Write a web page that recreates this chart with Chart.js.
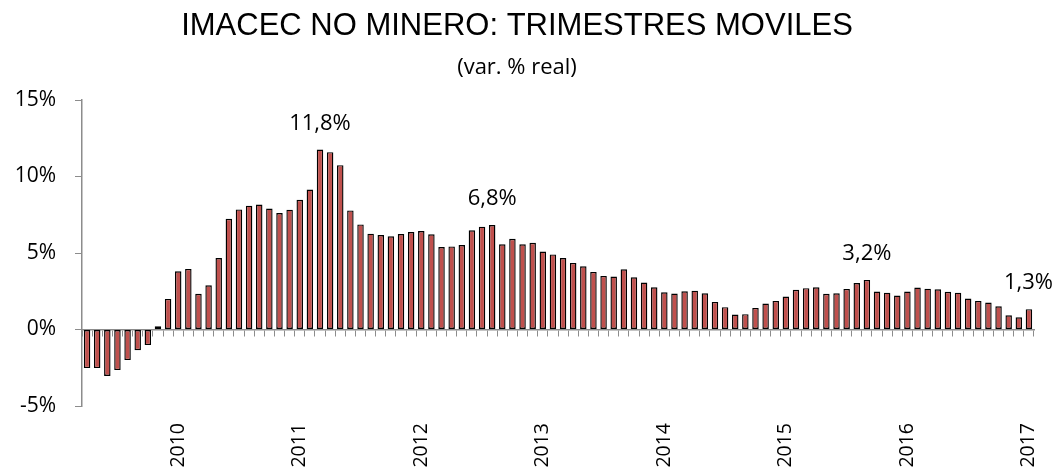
<!DOCTYPE html>
<html>
<head>
<meta charset="utf-8">
<script src="https://cdn.jsdelivr.net/npm/chart.js@4/dist/chart.umd.min.js"></script>
<style>
  html, body { margin: 0; padding: 0; background: #fff; }
  #wrap { width: 1054px; height: 469px; }
</style>
</head>
<body>
<div id="wrap"><canvas id="imacecChart" width="1054" height="469"></canvas></div>
<script>
// serie mensual, abr-2009 a ene-2017 (var. % real, trimestres moviles)
const startYear = 2009;
const startMonth = 4;
const values = [
  -2.52, -2.52, -3.04, -2.65, -2.0, -1.35, -1.02, 0.22,
  2.0, 3.8, 3.96, 2.33, 2.89, 4.67, 7.24, 7.85, 8.09, 8.17, 7.91, 7.61,
  7.83, 8.48, 9.15, 11.76, 11.59, 10.74, 7.78, 6.87,
  6.26, 6.17, 6.09, 6.24, 6.37, 6.43, 6.22, 5.39, 5.43, 5.52,
  6.48, 6.72, 6.83, 5.57, 5.93, 5.57, 5.67, 5.09, 4.91, 4.67,
  4.35, 4.13, 3.76, 3.50, 3.46,
  3.93, 3.41, 3.07, 2.76, 2.43, 2.35, 2.50, 2.54, 2.37, 1.80,
  1.46, 0.98, 1.0, 1.41, 1.70, 1.87, 2.15, 2.59, 2.70, 2.76,
  2.33, 2.37, 2.65, 3.04,
  3.24, 2.48, 2.41, 2.22, 2.48, 2.74, 2.67, 2.63, 2.46, 2.41,
  2.02, 1.87, 1.76, 1.52, 0.93, 0.80, 1.33
];
const yTicks = [-5, 0, 5, 10, 15];
const labeledPoints = [23, 40, 77, 93]; // barras con etiqueta de valor

const categories = values.map((v, i) => {
  const m = (startMonth - 1 + i) % 12 + 1;
  const y = startYear + Math.floor((startMonth - 1 + i) / 12);
  return y + "-" + String(m).padStart(2, "0");
});

const axisGray = "#8c8c8c";
const bodyFont = "'Open Sans'";

const valueLabels = {
  id: "valueLabels",
  afterDatasetsDraw(chart) {
    const ctx = chart.ctx;
    const meta = chart.getDatasetMeta(0);
    ctx.save();
    ctx.font = "22px " + bodyFont;
    ctx.fillStyle = "#000";
    ctx.textAlign = "center";
    ctx.textBaseline = "middle";
    labeledPoints.forEach(i => {
      const bar = meta.data[i];
      const txt = values[i].toFixed(1).replace(".", ",") + "%";
      const w = ctx.measureText(txt).width;
      let x = bar.x;
      if (x + w / 2 > chart.width - 1) x = chart.width - 1 - w / 2;
      ctx.fillText(txt, x, bar.y - 26);
    });
    ctx.restore();
  }
};

new Chart(document.getElementById("imacecChart").getContext("2d"), {
  type: "bar",
  data: {
    labels: categories,
    datasets: [{
      label: "IMACEC no minero",
      data: values,
      backgroundColor: "#C0504D",
      borderColor: "#000",
      borderWidth: 1.4,
      borderSkipped: false,
      barPercentage: 0.64,
      categoryPercentage: 1
    }]
  },
  options: {
    responsive: false,
    animation: false,
    layout: { padding: { left: 0, right: 20, top: 0, bottom: 0 } },
    plugins: {
      legend: { display: false },
      tooltip: { enabled: false },
      title: {
        display: true,
        text: "IMACEC NO MINERO: TRIMESTRES MOVILES",
        color: "#000",
        font: { family: "Liberation Sans", size: 31, weight: "normal" },
        padding: { top: 8, bottom: 9 }
      },
      subtitle: {
        display: true,
        text: "(var. % real)",
        color: "#000",
        font: { family: bodyFont, size: 22 },
        padding: { top: 0, bottom: 19.4 }
      }
    },
    scales: {
      x: {
        grid: { display: false, drawTicks: false },
        border: { display: false },
        ticks: {
          autoSkip: false,
          maxRotation: 90,
          minRotation: 90,
          padding: 17,
          color: "#000",
          font: { family: bodyFont, size: 19.5 },
          callback: function(value) {
            const lbl = this.getLabelForValue(value);
            return lbl.endsWith("-01") ? lbl.slice(0, 4) : "";
          }
        },
        afterFit(scale) {
          scale.height = 63;
          scale.paddingLeft = 0;
          scale.paddingRight = 0;
        }
      },
      xZero: {
        type: "category",
        axis: "x",
        position: { y: 0 },
        offset: true,
        grid: { offset: true, drawOnChartArea: false, tickLength: 6, color: axisGray, lineWidth: 1 },
        border: { color: axisGray, width: 1.5 },
        ticks: { display: false },
        afterFit(scale) {
          scale.paddingLeft = 0;
          scale.paddingRight = 0;
        }
      },
      y: {
        min: yTicks[0],
        max: yTicks[yTicks.length - 1],
        afterBuildTicks(scale) { scale.ticks = yTicks.map(v => ({ value: v })); },
        grid: { drawOnChartArea: false, tickLength: 7, color: axisGray },
        border: { color: axisGray, width: 1.5 },
        ticks: {
          padding: 19,
          color: "#000",
          font: { family: bodyFont, size: 21 },
          callback: v => v + "%"
        },
        afterFit(scale) { scale.width = 82; }
      }
    }
  },
  plugins: [valueLabels]
});
</script>
</body>
</html>
